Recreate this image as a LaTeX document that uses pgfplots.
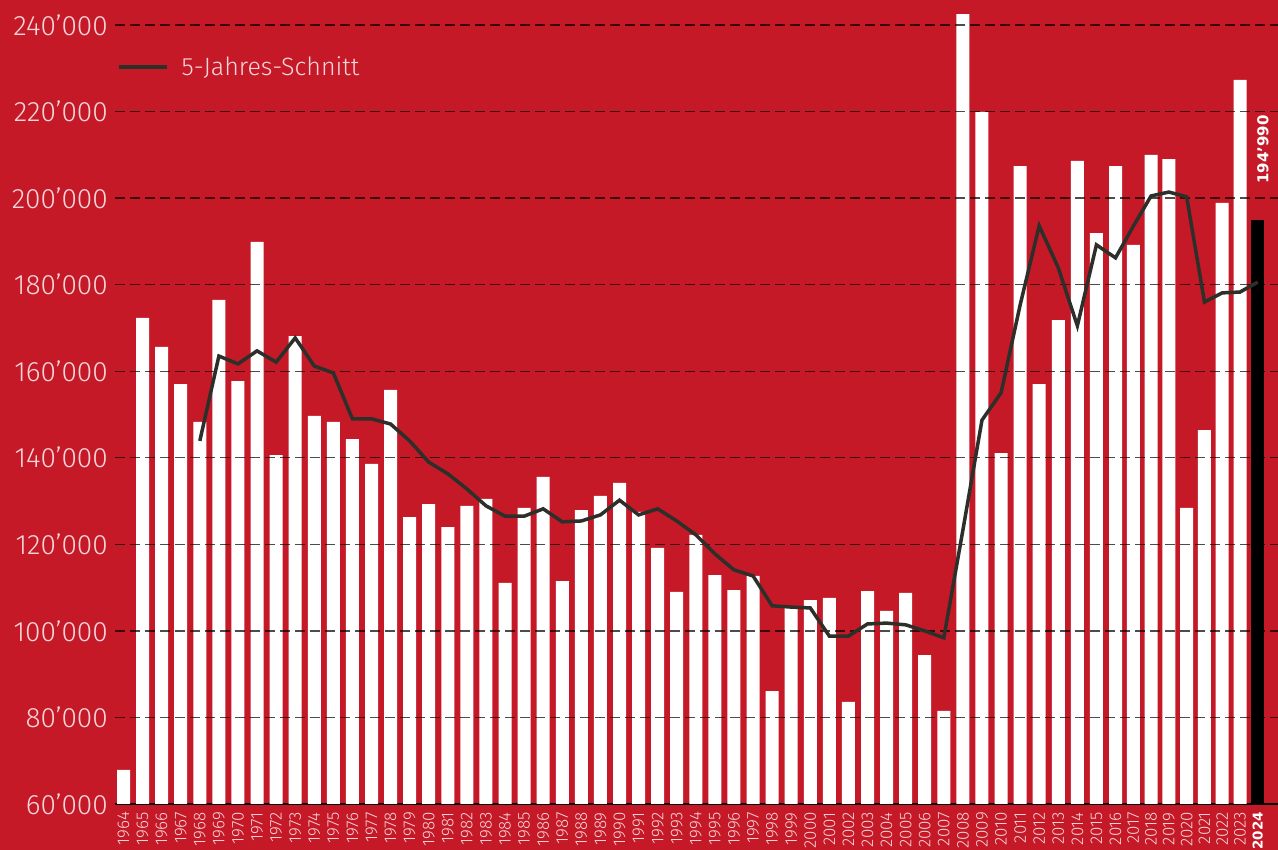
\documentclass[border=0pt]{standalone}
\usepackage{fontspec}
\setmainfont{Fira Sans}[UprightFont={* Light}, BoldFont={* Bold}]
\newfontfamily\dejavu{DejaVu Sans}
\usepackage{pgfplots}
\usepackage{pgfplotstable}
\pgfplotsset{compat=1.18}
\definecolor{bgred}{RGB}{197,25,40}
\definecolor{lab}{RGB}{246,214,218}
\definecolor{avg}{RGB}{45,47,42}

\pgfplotstableread{
year val
1964 67900
1965 172300
1966 165600
1967 157000
1968 148300
1969 176500
1970 157700
1971 189900
1972 140600
1973 168100
1974 149700
1975 148300
1976 144300
1977 138600
1978 155700
1979 126300
1980 129300
1981 124000
1982 128900
1983 130500
1984 111100
1985 128400
1986 135600
1987 111500
1988 127900
1989 131200
1990 134200
1991 127500
1992 119200
1993 109000
1994 122200
1995 112900
1996 109400
1997 112700
1998 86100
1999 105500
2000 107100
2001 107600
2002 83600
2003 109200
2004 104600
2005 108800
2006 94400
2007 81500
2008 242500
2009 219900
2010 141100
2011 207400
2012 157000
2013 171800
2014 208600
2015 191900
2016 207400
2017 189200
2018 210000
2019 209000
2020 128400
2021 146400
2022 198900
2023 227300
}\bars

\pgfplotstableread{
year val
1968 143900
1969 163500
1970 161700
1971 164700
1972 162100
1973 167700
1974 161200
1975 159600
1976 149000
1977 149000
1978 147800
1979 143900
1980 139000
1981 136300
1982 132800
1983 128900
1984 126500
1985 126500
1986 128200
1987 125200
1988 125400
1989 126800
1990 130200
1991 126800
1992 128200
1993 125400
1994 122200
1995 117800
1996 114100
1997 112700
1998 105800
1999 105500
2000 105300
2001 98800
2002 98800
2003 101600
2004 101800
2005 101400
2006 100000
2007 98400
2008 123300
2009 148700
2010 155000
2011 175300
2012 193600
2013 183900
2014 170500
2015 189200
2016 186200
2017 193500
2018 200500
2019 201400
2020 200300
2021 176000
2022 178100
2023 178300
2024 180600
}\avgdata

\begin{document}
\begin{tikzpicture}
\fill[bgred] (-115pt,-46pt) rectangle (1163pt,804pt);
\begin{axis}[
  scale only axis,
  width=1163pt, height=804pt,
  at={(0pt,0pt)}, anchor=south west,
  x coord trafo/.code={\pgfmathparse{(#1<=2016.001)?(#1):(2016+(#1-2016)*0.9324)}},
  x coord inv trafo/.code={\pgfmathparse{(#1<=2016.001)?(#1):(2016+(#1-2016)/0.9324)}},
  xmin=1963.554, xmax=2025.136,
  ymin=60000, ymax=245780,
  axis x line=bottom, axis y line=left,
  axis line style={-},
  x axis line style={draw=black, line width=1.5pt},
  y axis line style={draw=none},
  major tick length=0pt,
  ytick={60000,80000,100000,120000,140000,160000,180000,200000,220000,240000},
  yticklabels={60’000,80’000,100’000,120’000,140’000,160’000,180’000,200’000,220’000,240’000},
  yticklabel style={font=\fontsize{28}{28}\selectfont, text=lab, anchor=east, inner sep=0pt, xshift=-7pt},
  xtick={1964,1965,...,2024},
  xticklabels={1964,1965,1966,1967,1968,1969,1970,1971,1972,1973,1974,1975,1976,1977,1978,1979,1980,1981,1982,1983,1984,1985,1986,1987,1988,1989,1990,1991,1992,1993,1994,1995,1996,1997,1998,1999,2000,2001,2002,2003,2004,2005,2006,2007,2008,2009,2010,2011,2012,2013,2014,2015,2016,2017,2018,2019,2020,2021,2022,2023,{\color{white}\dejavu\bfseries\fontsize{13.5}{13.5}\selectfont 2024}},
  xticklabel style={yshift=-8pt, rotate=90, anchor=east, inner sep=0pt, font=\fontsize{17}{17}\selectfont, text=lab},
  legend style={at={(0.0017,0.9167)}, anchor=west, draw=none, fill=none, inner sep=0pt,
    font=\fontsize{25}{25}\selectfont, text=lab, nodes={inner sep=0pt}},
  legend image code/.code={\draw[avg, line width=3.5pt] (0pt,0pt) -- (48pt,0pt);},
  legend cell align=left,
]
\addplot[ybar, bar width=13pt, bar shift=0pt, fill=white, draw=none, forget plot] table[x=year, y=val] {\bars};
\addplot[ybar, bar width=13pt, bar shift=0pt, fill=black, draw=none, forget plot,
  nodes near coords={\dejavu\bfseries 194’990},
  nodes near coords style={xshift=5pt, yshift=36pt, rotate=90, anchor=west, inner sep=0pt, text=white, font=\fontsize{15}{15}\selectfont}]
  coordinates {(2024,194990)};
\pgfplotsinvokeforeach{80000,100000,120000,140000,160000,180000,200000,220000,240000}{
  \draw[black, opacity=0.7, line width=1.3pt, dash pattern=on 10pt off 5pt] (axis cs:1963.554,#1) -- (axis cs:2025.136,#1);
}
\addplot[avg, line width=3.5pt, no marks, sharp plot] table[x=year, y=val] {\avgdata};
\addlegendentry{\hspace{13pt}5-Jahres-Schnitt}
\end{axis}
\pgfresetboundingbox
\path[use as bounding box] (-115pt,-46pt) rectangle (1163pt,804pt);
\end{tikzpicture}
\end{document}
